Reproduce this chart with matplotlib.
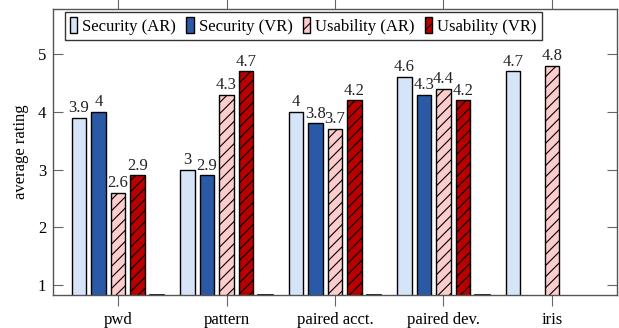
import matplotlib.pyplot as plt
import numpy as np

categories = ['pwd', 'pattern', 'paired acct.', 'paired dev.', 'iris']
security_ar = [3.9, 3.0, 4.0, 4.6, 4.7]
security_vr = [4.0, 2.9, 3.8, 4.3, np.nan]
usability_ar = [2.6, 4.3, 3.7, 4.4, 4.8]
usability_vr = [2.9, 4.7, 4.2, 4.2, np.nan]
# leere Füllreihe (liegt auf der Achse)
filler = [0.83, 0.83, 0.83, 0.83, np.nan]

series_labels = ['Security (AR)', 'Security (VR)', 'Usability (AR)', 'Usability (VR)']

plt.rcParams['font.family'] = ['Liberation Serif', 'DejaVu Serif']
plt.rcParams['hatch.linewidth'] = 0.8

FS = 12

fig = plt.figure(figsize=(6.19, 3.28), dpi=100)
ax = fig.add_axes([0.0856, 0.1006, 0.9112, 0.872])

x = np.arange(len(categories))
step = 0.18
width = 0.134
styles = [
    dict(color='#d6e4f8', hatch=None),
    dict(color='#2a5aa5', hatch=None),
    dict(color='#fdcccc', hatch='///'),
    dict(color='#b80000', hatch='///'),
]
all_series = [security_ar, security_vr, usability_ar, usability_vr]

for i, (vals, st, lab) in enumerate(zip(all_series, styles, series_labels)):
    pos = x + (i - 2) * step
    ax.bar(pos, vals, width=width, bottom=0, color=st['color'],
           edgecolor='black', linewidth=1.0, hatch=st['hatch'],
           label=lab, zorder=2)
    for p, v in zip(pos, vals):
        if not np.isnan(v):
            ax.text(p, v + 0.03, f'{v:g}', ha='center', va='bottom',
                    fontsize=FS, color='#222222', zorder=3)

ax.bar(x + 2 * step, filler, width=width, bottom=0, color='white',
       edgecolor='black', linewidth=1.2, zorder=2)

ax.set_xlim(-0.6, 4.6)
ax.set_ylim(0.83, 5.78)
ax.set_xticks(x)
ax.set_xticklabels(categories, fontsize=FS)
ax.set_yticks([1, 2, 3, 4, 5])
ax.set_yticklabels(['1', '2', '3', '4', '5'], fontsize=FS)
ax.tick_params(axis='x', direction='out', length=8, width=0.8, color='#666666',
               top=True, pad=4)
ax.tick_params(axis='y', direction='in', length=7, width=0.8, color='#666666',
               right=True, pad=5)
ax.set_ylabel('average rating', fontsize=FS, labelpad=6)

for s in ax.spines.values():
    s.set_color('#555555')
    s.set_linewidth(1.0)

leg = ax.legend(loc='upper left', ncol=4, fontsize=FS, frameon=True,
                fancybox=False, edgecolor='black', handlelength=0.45,
                handleheight=1.1, handletextpad=0.3, columnspacing=0.6,
                borderpad=0.3, borderaxespad=0, bbox_to_anchor=(0.021, 0.99))
leg.get_frame().set_linewidth(1.0)
leg.set_zorder(5)

fig.savefig('out.png', dpi=100, facecolor='white')
